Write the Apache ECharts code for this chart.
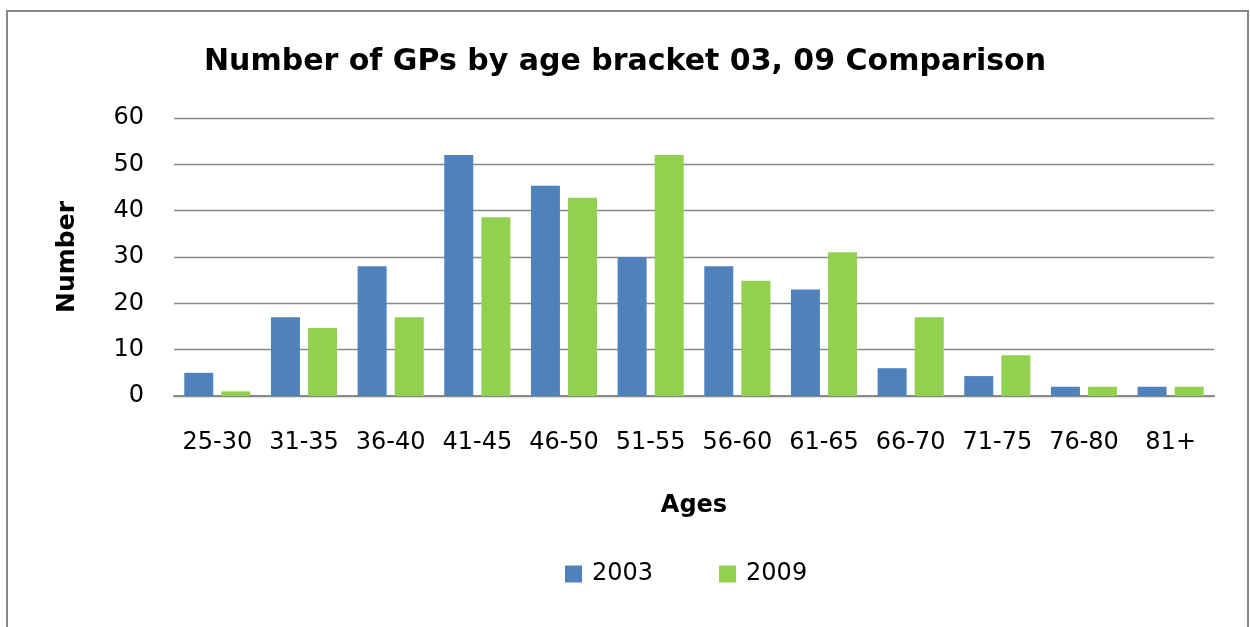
<!DOCTYPE html>
<html>
<head>
<meta charset="utf-8">
<script src="https://cdn.jsdelivr.net/npm/echarts@6/dist/echarts.min.js"></script>
<style>
  html, body { margin: 0; padding: 0; background: #fff; }
  #chart { width: 1250px; height: 627px; }
</style>
</head>
<body>
<div id="chart"></div>
<script>
// data
const ageBrackets = ['25-30', '31-35', '36-40', '41-45', '46-50', '51-55', '56-60', '61-65', '66-70', '71-75', '76-80', '81+'];
const gps2003 = [5, 17, 28, 52, 45.4, 30, 28, 23, 6, 4.3, 2, 2];
const gps2009 = [1, 14.7, 17, 38.6, 42.8, 52, 24.9, 31, 17, 8.8, 2, 2];
const seriesNames = ['2003', '2009'];
const yTicks = { min: 0, max: 60, step: 10 };

const font = 'DejaVu Sans';
const chart = echarts.init(document.getElementById('chart'));

const option = {
    animation: false,
    backgroundColor: '#fff',
    graphic: [{
        type: 'rect',
        shape: { x: 7, y: 11, width: 1241, height: 700 },
        style: { fill: 'none', stroke: '#888', lineWidth: 2 },
        silent: true
    }],
    title: {
        text: 'Number of GPs by age bracket 03, 09 Comparison',
        left: 'center',
        top: 42,
        textStyle: { fontFamily: font, fontSize: 30, fontWeight: 'bold', color: '#000' }
    },
    legend: {
        data: seriesNames,
        left: 560,
        top: 557,
        icon: 'rect',
        itemWidth: 17,
        itemHeight: 17,
        itemGap: 66,
        textStyle: { fontFamily: font, fontSize: 24, color: '#000', padding: [0, 0, 0, 5] }
    },
    grid: { left: 174, right: 36, top: 118, bottom: 231, containLabel: false },
    xAxis: {
        type: 'category',
        data: ageBrackets,
        name: 'Ages',
        nameLocation: 'middle',
        nameGap: 98,
        nameTextStyle: { fontFamily: font, fontSize: 24, fontWeight: 'bold', color: '#000' },
        axisLine: { show: true, lineStyle: { color: '#888', width: 2 } },
        axisTick: { show: false },
        axisLabel: { fontFamily: font, fontSize: 24, color: '#000', margin: 35, interval: 0 }
    },
    yAxis: {
        type: 'value',
        min: yTicks.min,
        max: yTicks.max,
        interval: yTicks.step,
        name: 'Number',
        nameLocation: 'middle',
        nameRotate: 90,
        nameGap: 94,
        nameTextStyle: { fontFamily: font, fontSize: 25, fontWeight: 'bold', color: '#000' },
        axisLine: { show: false },
        axisTick: { show: false },
        splitLine: { lineStyle: { color: '#888', width: 1.3 } },
        axisLabel: { fontFamily: font, fontSize: 24, color: '#000', margin: 30 }
    },
    series: [
        {
            name: seriesNames[0],
            type: 'bar',
            data: gps2003,
            barWidth: 29,
            barGap: '28%',
            itemStyle: { color: '#4F81BD' }
        },
        {
            name: seriesNames[1],
            type: 'bar',
            data: gps2009,
            barWidth: 29,
            barGap: '28%',
            itemStyle: { color: '#92D050' }
        }
    ]
};

chart.setOption(option);
</script>
</body>
</html>
